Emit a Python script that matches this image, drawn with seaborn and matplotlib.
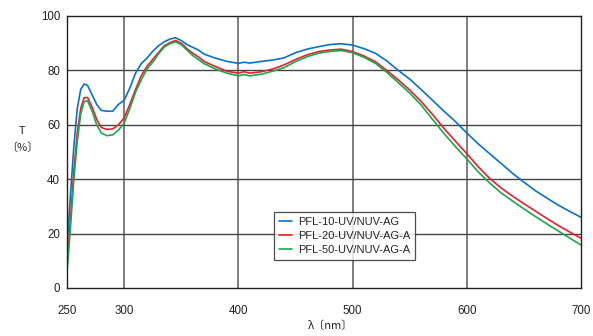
import numpy as np
import pandas as pd
import matplotlib
matplotlib.use("Agg")
import matplotlib.pyplot as plt
import seaborn as sns

# wavelength (nm) and transmittance (%)
wavelength = [250, 253, 256, 259, 262, 265, 268, 272, 276, 280, 285, 290, 295,
              300, 305, 310, 315, 320, 325, 330, 335, 340, 345, 350, 355, 360,
              365, 370, 380, 390, 400, 405, 410, 420, 430, 440, 450, 460, 470,
              480, 490, 500, 510, 520, 530, 540, 550, 560, 570, 580, 590, 600,
              610, 620, 630, 640, 650, 660, 670, 680, 690, 700]

pfl10 = [15, 34, 52, 66, 73, 75, 74.5, 71, 67.5, 65.3, 65, 65, 67.5,
         69, 73.5, 79, 82.5, 84.5, 87, 89, 90.5, 91.5, 92, 91, 89.5, 88.5,
         87.5, 86, 84.5, 83.3, 82.6, 83, 82.7, 83.3, 83.8, 84.6, 86.5, 87.8, 88.7,
         89.5, 89.8, 89.3, 88, 86.3, 83.5, 80, 76.8, 73, 69, 65, 61.2, 57,
         53, 49.4, 45.8, 42.2, 38.9, 35.8, 33.1, 30.5, 28.2, 26]

pfl20 = [8, 25, 43, 57, 66, 70, 70, 66.5, 62, 59, 58.3, 58.5, 60,
         62.5, 67.5, 73, 78, 81.5, 84, 86.5, 89, 90.2, 91, 90, 88, 86.3,
         85, 83.3, 81.4, 79.7, 79, 79.5, 79, 79.5, 80.5, 82, 84, 85.7, 86.9,
         87.5, 87.8, 86.9, 85.3, 83.2, 80, 76.5, 72.8, 68.6, 63.8, 58.7, 54, 49.4,
         44.6, 40.3, 36.8, 33.8, 31, 28.3, 25.6, 23, 20.6, 18.3]

pfl50 = [6, 22, 40, 54, 64, 68.5, 68.8, 65, 60, 57, 56, 56.3, 58,
         60.6, 66, 72, 76.5, 80.5, 83, 86, 88.5, 89.8, 90.5, 89.5, 87.5, 85.5,
         84, 82.5, 80.5, 79, 78, 78.5, 78, 78.6, 79.7, 81, 83.2, 85, 86.3,
         87, 87.3, 86.5, 84.8, 82.6, 79.3, 75.5, 71.7, 67.3, 62, 56.8, 52, 47.5,
         42.7, 38.6, 35, 32, 29.1, 26.3, 23.6, 21, 18.4, 15.8]

series_names = ["PFL-10-UV/NUV-AG", "PFL-20-UV/NUV-AG-A", "PFL-50-UV/NUV-AG-A"]
colors = ["#0a72c6", "#e8202c", "#18a84c"]

x_ticks = [250, 300, 400, 500, 600, 700]
y_ticks = [0, 20, 40, 60, 80, 100]


def build_frame():
    parts = []
    for name, vals in zip(series_names, [pfl10, pfl20, pfl50]):
        parts.append(pd.DataFrame({"wl": wavelength, "T": vals, "filter": name}))
    return pd.concat(parts, ignore_index=True)


def main():
    sns.set_style("white")
    plt.rcParams["font.family"] = ["Liberation Sans", "Noto Sans CJK JP", "DejaVu Sans"]

    df = build_frame()

    fig = plt.figure(figsize=(5.93, 3.36), dpi=100)
    ax = fig.add_axes([67 / 593, 48 / 336, 514 / 593, 272 / 336])

    sns.lineplot(data=df, x="wl", y="T", hue="filter", palette=dict(zip(series_names, colors)),
                 linewidth=1.2, ax=ax, legend=False)

    ax.set_xlim(250, 700)
    ax.set_ylim(0, 100)
    ax.set_xticks(x_ticks)
    ax.set_yticks(y_ticks)
    ax.tick_params(axis="both", length=0, labelsize=8.3, colors="#222222")
    ax.tick_params(axis="x", pad=12)
    ax.tick_params(axis="y", pad=5)
    ax.set_xlabel("")
    ax.set_ylabel("")

    # grid only at interior ticks
    for xv in x_ticks[1:-1]:
        ax.axvline(xv, color="#5a5a5a", lw=1.1, zorder=0)
    for yv in y_ticks[1:-1]:
        ax.axhline(yv, color="#444444", lw=1.0, zorder=0)

    for sp in ax.spines.values():
        sp.set_color("#222222")
        sp.set_linewidth(1.0)

    handles = [plt.Line2D([], [], color=c, lw=1.2) for c in colors]
    leg = ax.legend(handles, series_names, loc="lower left", bbox_to_anchor=(0.403, 0.103),
                    borderaxespad=0, fontsize=8, frameon=True, fancybox=False,
                    handlelength=1.2, handletextpad=0.5, labelspacing=0.35,
                    borderpad=0.45, edgecolor="#222222")
    leg.get_frame().set_linewidth(0.9)

    fig.text(22 / 593, 1 - 131 / 336, "T", ha="center", va="center", fontsize=8,
             family=["Noto Sans CJK JP", "DejaVu Sans"])
    fig.text(22 / 593, 1 - 148 / 336, "〔%〕", ha="center", va="center", fontsize=8,
             family=["Noto Sans CJK JP", "DejaVu Sans"])
    fig.text(330 / 593, 1 - 326 / 336, "λ〔nm〕", ha="center", va="center", fontsize=8,
             family=["Noto Sans CJK JP", "DejaVu Sans"])

    fig.savefig("out.png", dpi=100)


if __name__ == "__main__":
    main()
